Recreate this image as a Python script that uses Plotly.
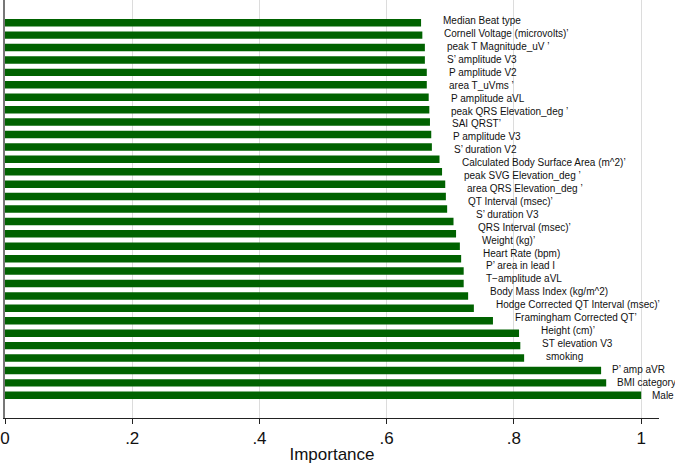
import plotly.graph_objects as go

# Features listed top to bottom (one bar in the reference carries no label)
features = [
    "Median Beat type", "Cornell Voltage (microvolts)’", "peak T Magnitude_uV ’",
    "S’ amplitude V3", "P amplitude V2", "area T_uVms ’", "P amplitude aVL",
    "peak QRS Elevation_deg ’", "SAI QRST’", "P amplitude V3", "S’ duration V2",
    "Calculated Body Surface Area (m^2)’", "peak SVG Elevation_deg ’",
    "area QRS Elevation_deg ’", "QT Interval (msec)’", "", "S’ duration V3",
    "QRS Interval (msec)’", "Weight (kg)’", "Heart Rate (bpm)", "P’ area in lead I",
    "T−amplitude aVL", "Body Mass Index (kg/m^2)", "Hodge Corrected QT Interval (msec)’",
    "Framingham Corrected QT’", "Height (cm)’", "ST elevation V3", "smoking",
    "P’ amp aVR", "BMI category", "Male",
]
importance = [
    0.654, 0.656, 0.660, 0.660, 0.663, 0.663, 0.666, 0.667, 0.668, 0.670, 0.671,
    0.683, 0.687, 0.692, 0.693, 0.695, 0.705, 0.709, 0.715, 0.717, 0.721, 0.721,
    0.728, 0.737, 0.767, 0.808, 0.810, 0.816, 0.937, 0.945, 1.000,
]
x_ticks = [0, 0.2, 0.4, 0.6, 0.8, 1.0]
x_tick_labels = ["0", ".2", ".4", ".6", ".8", "1"]

n = len(features)
bar_pos = [n - 1 - i for i in range(n)]

labeled = [(f, v) for f, v in zip(features, importance) if f]
m = len(labeled)
label_pos = [m - 1 - i for i in range(m)]

fig = go.Figure()
fig.add_trace(go.Bar(
    x=importance, y=bar_pos, orientation="h",
    marker=dict(color="rgb(0,98,0)", line=dict(width=0)),
    width=0.6, hoverinfo="skip",
))
fig.add_trace(go.Scatter(
    x=[v for _, v in labeled], y=label_pos, yaxis="y2", mode="markers",
    marker=dict(opacity=0), hoverinfo="skip", showlegend=False,
))

annotations = []
for (name, val), pos in zip(labeled, label_pos):
    # labels near the right edge sit closer to their bars so they stay on the page
    shift = 9 if val > 0.9 else 20
    annotations.append(dict(
        x=val, y=pos, xref="x", yref="y2", text=name, showarrow=False,
        xanchor="left", yanchor="middle", xshift=shift,
        font=dict(family="Liberation Sans, Arial", size=10, color="#111"),
    ))

fig.update_layout(
    width=675, height=464,
    margin=dict(l=4.5, r=16, t=0, b=46, autoexpand=False),
    paper_bgcolor="white", plot_bgcolor="white",
    showlegend=False,
    annotations=annotations,
    xaxis=dict(
        range=[0, 1.028], tickvals=x_ticks, ticktext=x_tick_labels,
        showgrid=True, gridcolor="#dcdcdc", gridwidth=1,
        showline=True, linecolor="#222", linewidth=1,
        ticks="outside", ticklen=5, tickcolor="#222", automargin=False,
        tickfont=dict(family="Liberation Sans, Arial", size=17, color="#111"),
        title=dict(text="Importance", standoff=4,
                   font=dict(family="Liberation Sans, Arial", size=17, color="#111")),
        zeroline=False,
    ),
    yaxis=dict(
        range=[-1.83, 31.83], showticklabels=False, showgrid=False, automargin=False,
        zeroline=False, showline=True, linecolor="#777", linewidth=2, ticks="",
    ),
    yaxis2=dict(
        range=[-1.78, 30.60], overlaying="y", showticklabels=False,
        showgrid=False, zeroline=False, showline=False, ticks="",
    ),
)

fig.write_html(
    "out.html",
    config={"displayModeBar": False, "staticPlot": True},
    post_script="document.body.style.margin='0';document.body.style.overflow='hidden';",
)
